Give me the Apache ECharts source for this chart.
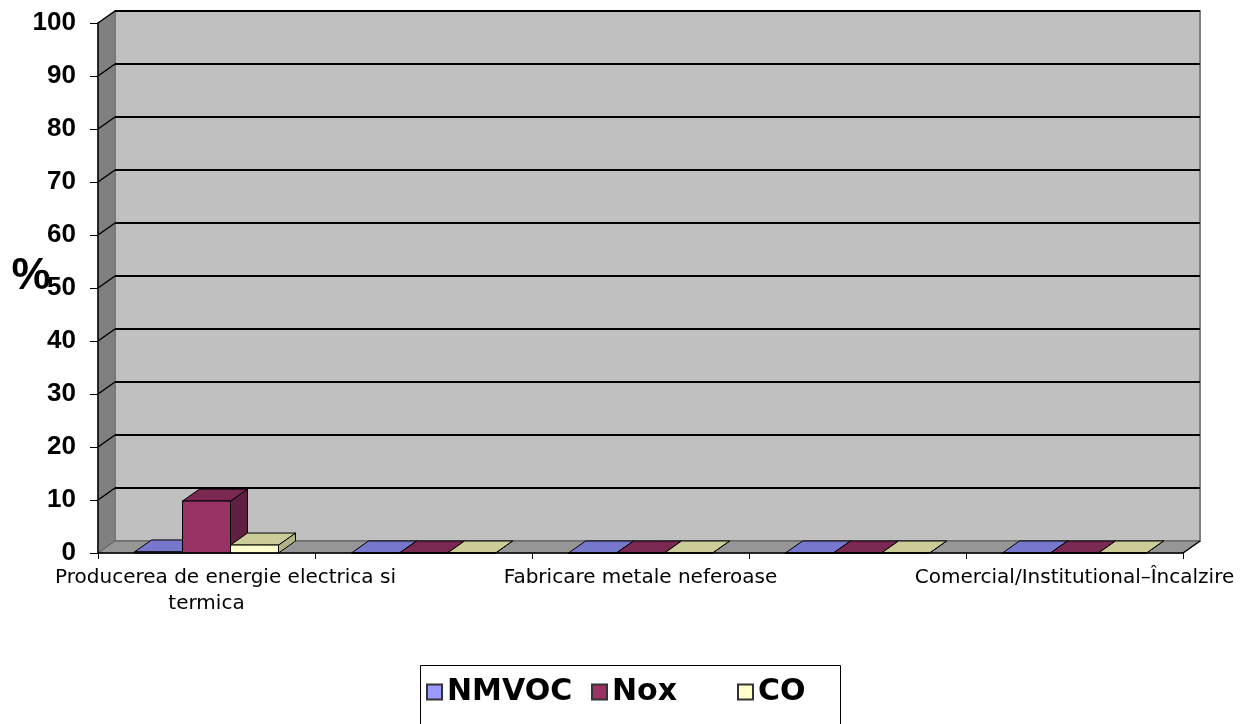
<!DOCTYPE html>
<html>
<head>
<meta charset="utf-8">
<script src="https://cdn.jsdelivr.net/npm/echarts@6/dist/echarts.min.js"></script>
<style>
  html, body { margin: 0; padding: 0; background: #ffffff; }
  #chart { width: 1260px; height: 724px; }
</style>
</head>
<body>
<div id="chart"></div>
<script>
// Source categories (every other label is left blank on the axis)
const categories = [
  'Producerea de energie electrica si\ntermica',
  '',
  'Fabricare metale neferoase',
  '',
  'Comercial/Institutional\u2013\u00CEncalzire'
];
// Share of emissions, %
const nmvocValues = [0.2, 0, 0, 0, 0];
const noxValues   = [9.8, 0, 0, 0, 0];
const coValues    = [1.5, 0, 0, 0, 0];
const seriesNames = ['NMVOC', 'Nox', 'CO'];

const Y_MIN = 0, Y_MAX = 100, Y_STEP = 10;

// Pseudo-3D depth offset of the back wall (pixels)
const DX = 17, DY = -12;
// Each bar takes this share of a category band
const BAR_FRAC = 48 / 217;

const palettes = [
  { front: '#9999ff', top: '#7777cc', side: '#5c5c99' },
  { front: '#993366', top: '#7a2952', side: '#5e1f40' },
  { front: '#ffffcc', top: '#cccc99', side: '#b3b386' }
];

const ARIAL = '"Liberation Sans", Arial, sans-serif';
const DEJAVU = '"DejaVu Sans", Verdana, sans-serif';

function frameRender(params, api) {
  const band = api.size([1, 0])[0];
  const n = categories.length;
  const x0 = api.coord([0, Y_MIN])[0] - band / 2;
  const x1 = api.coord([n - 1, Y_MIN])[0] + band / 2;
  const yb = api.coord([0, Y_MIN])[1];
  const yt = api.coord([0, Y_MAX])[1];
  const children = [];
  // back wall
  children.push({
    type: 'rect',
    shape: { x: x0 + DX, y: yt + DY, width: x1 - x0, height: yb - yt },
    style: { fill: '#c0c0c0', stroke: '#808080', lineWidth: 2 }
  });
  // side wall
  children.push({
    type: 'polygon',
    shape: { points: [[x0, yb], [x0 + DX, yb + DY], [x0 + DX, yt + DY], [x0, yt]] },
    style: { fill: '#808080', stroke: '#707070', lineWidth: 1 }
  });
  // floor
  children.push({
    type: 'polygon',
    shape: { points: [[x0, yb], [x1, yb], [x1 + DX, yb + DY], [x0 + DX, yb + DY]] },
    style: { fill: '#969696', stroke: '#5a5a5a', lineWidth: 1 }
  });
  // gridlines on the back and side walls
  for (let v = Y_MIN + Y_STEP; v <= Y_MAX; v += Y_STEP) {
    const y = api.coord([0, v])[1];
    children.push({
      type: 'line',
      shape: { x1: x0 + DX, y1: y + DY, x2: x1 + DX, y2: y + DY },
      style: { stroke: '#000', lineWidth: 2 }
    });
    children.push({
      type: 'line',
      shape: { x1: x0, y1: y, x2: x0 + DX, y2: y + DY },
      style: { stroke: '#000', lineWidth: 1.5 }
    });
  }
  // right edge of the floor
  children.push({
    type: 'line',
    shape: { x1: x1, y1: yb, x2: x1 + DX, y2: yb + DY },
    style: { stroke: '#000', lineWidth: 1.5 }
  });
  return { type: 'group', children: children };
}

function barRender(k) {
  const pal = palettes[k];
  return function (params, api) {
    const ci = api.value(0);
    const v = api.value(1);
    const band = api.size([1, 0])[0];
    const cx = api.coord([ci, Y_MIN])[0];
    const yb = api.coord([ci, Y_MIN])[1];
    const yv = api.coord([ci, v])[1];
    const bw = band * BAR_FRAC;
    const left = cx - 1.5 * bw + k * bw;
    const right = left + bw;
    const edge = { stroke: '#000', lineWidth: 1 };
    return {
      type: 'group',
      children: [
        {
          type: 'polygon',
          shape: { points: [[right, yv], [right + DX, yv + DY], [right + DX, yb + DY], [right, yb]] },
          style: Object.assign({ fill: pal.side }, edge)
        },
        {
          type: 'polygon',
          shape: { points: [[left, yv], [right, yv], [right + DX, yv + DY], [left + DX, yv + DY]] },
          style: Object.assign({ fill: pal.top }, edge)
        },
        {
          type: 'rect',
          shape: { x: left, y: yv, width: bw, height: yb - yv },
          style: Object.assign({ fill: pal.front }, edge)
        }
      ]
    };
  };
}

const valueSets = [nmvocValues, noxValues, coValues];

const chart = echarts.init(document.getElementById('chart'), null, { renderer: 'canvas' });

const legendLefts = [426, 591, 737];

chart.setOption({
  animation: false,
  backgroundColor: '#ffffff',
  grid: { left: 98, right: 77, top: 23, bottom: 171, containLabel: false, outerBoundsMode: 'none' },
  xAxis: {
    type: 'category',
    data: categories,
    z: 10,
    axisLine: { lineStyle: { color: '#000', width: 1.5 } },
    axisTick: { show: true, interval: 0, length: 6, lineStyle: { color: '#000' } },
    axisLabel: {
      interval: 0,
      margin: 12,
      color: '#000',
      fontFamily: DEJAVU,
      fontSize: 20,
      lineHeight: 26,
      formatter: function (value) {
        const lines = value.split('\n');
        if (lines.length > 1) {
          return '{a|' + lines[0] + '}\n{b|' + lines[1] + '}';
        }
        return value;
      },
      rich: {
        a: { fontFamily: DEJAVU, fontSize: 20, lineHeight: 26, color: '#000', padding: [0, 0, 0, 38] },
        b: { fontFamily: DEJAVU, fontSize: 20, lineHeight: 26, color: '#000' }
      }
    },
    splitLine: { show: false }
  },
  yAxis: {
    type: 'value',
    min: Y_MIN,
    max: Y_MAX,
    interval: Y_STEP,
    z: 10,
    axisLine: { show: true, lineStyle: { color: '#000', width: 1.5 } },
    axisTick: { show: true, length: 8, lineStyle: { color: '#000' } },
    axisLabel: {
      margin: 22,
      color: '#000',
      fontFamily: ARIAL,
      fontWeight: 'bold',
      fontSize: 26
    },
    splitLine: { show: false }
  },
  legend: seriesNames.map(function (name, i) {
    return {
      data: [name],
      left: legendLefts[i],
      top: 677,
      padding: 0,
      icon: 'rect',
      itemWidth: 15,
      itemHeight: 15,
      itemGap: 0,
      selectedMode: false,
      textStyle: {
        fontFamily: DEJAVU, fontWeight: 'bold', fontSize: 30, color: '#000', lineHeight: 30
      }
    };
  }),
  graphic: [
    {
      type: 'rect',
      left: 418,
      top: 663,
      shape: { width: 420, height: 90 },
      style: { fill: 'none', stroke: '#000', lineWidth: 1 },
      z: 0
    },
    {
      // unit label of the value axis
      type: 'text',
      x: 31,
      y: 277,
      style: {
        text: '%',
        align: 'center',
        verticalAlign: 'middle',
        font: 'bold 44px "Liberation Sans", Arial, sans-serif',
        fill: '#000'
      },
      z: 20
    }
  ],
  series: [
    {
      type: 'custom',
      name: 'frame',
      renderItem: frameRender,
      data: [[0, 0]],
      z: 1,
      silent: true,
      legendHoverLink: false
    }
  ].concat(seriesNames.map(function (name, k) {
    return {
      type: 'custom',
      name: name,
      renderItem: barRender(k),
      data: valueSets[k].map(function (v, i) { return [i, v]; }),
      encode: { x: 0, y: 1 },
      z: 2 + k,
      itemStyle: { color: palettes[k].front, borderColor: '#333', borderWidth: 1 }
    };
  }))
});
</script>
</body>
</html>
